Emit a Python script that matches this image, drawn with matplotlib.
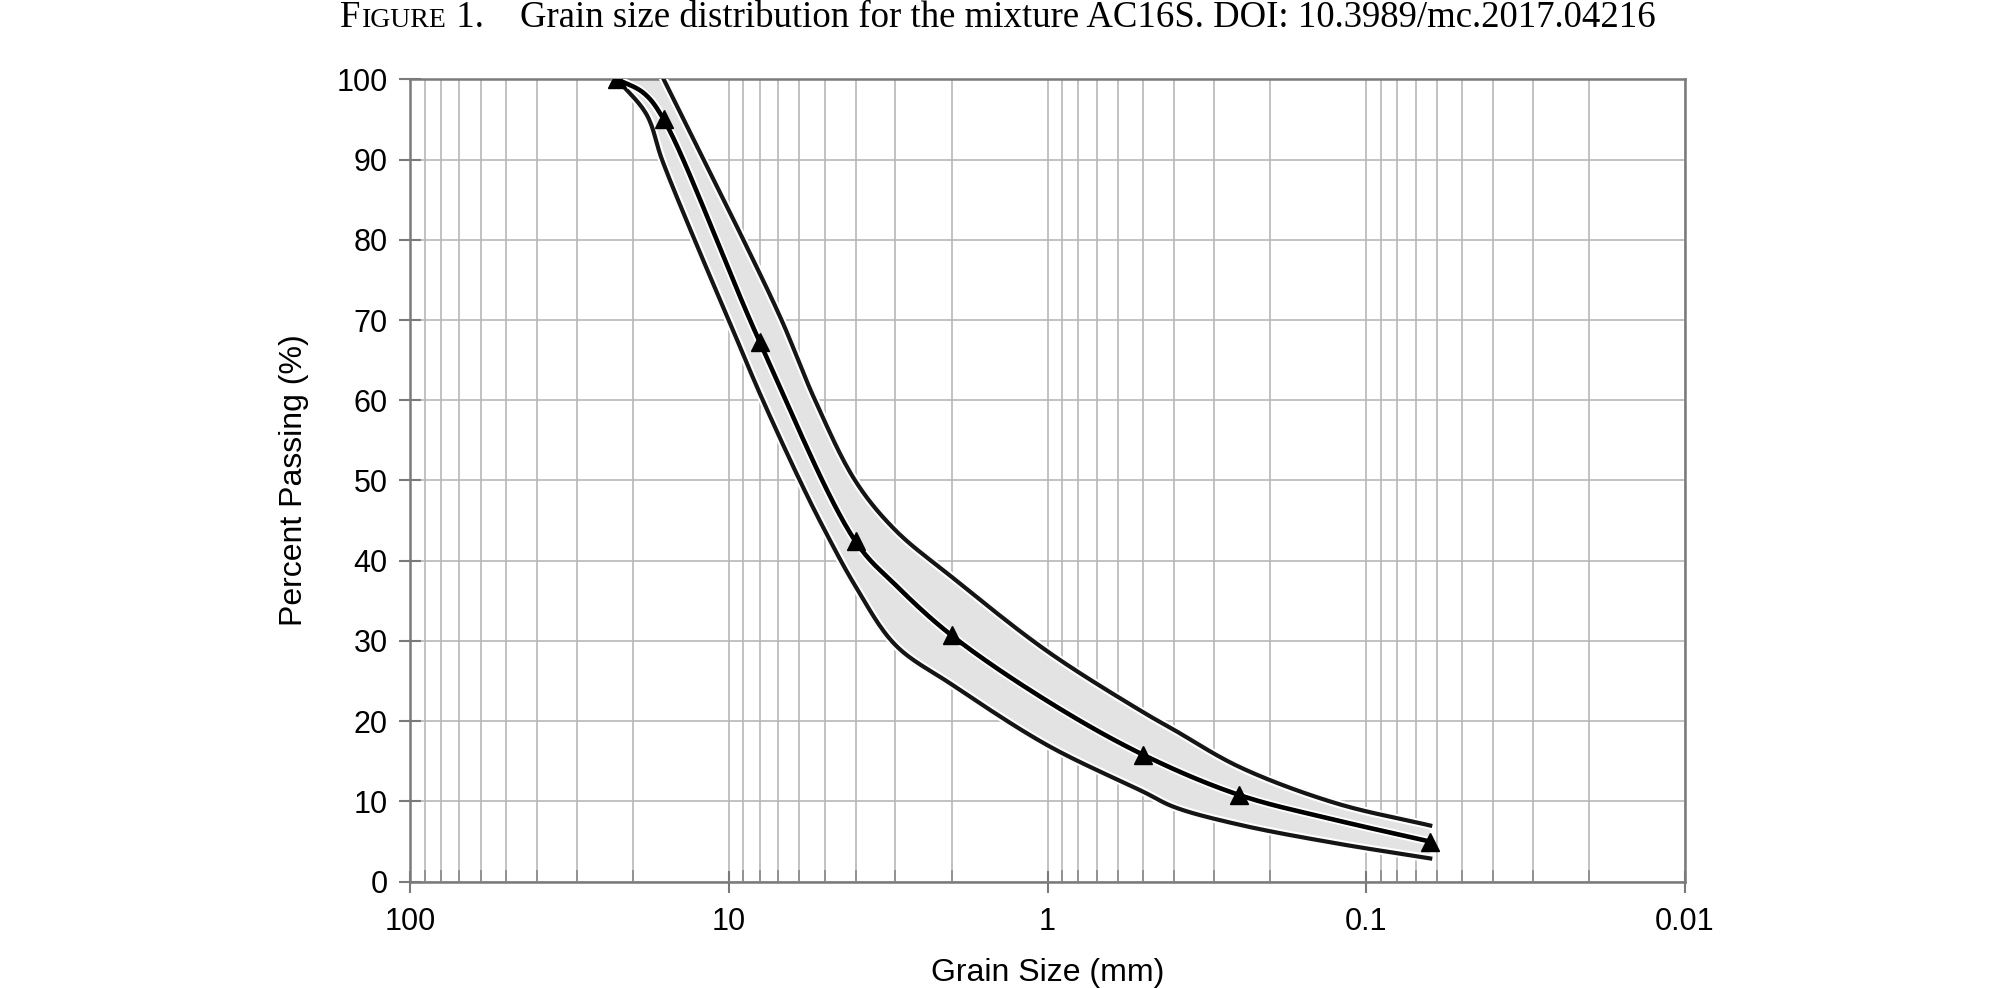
import matplotlib
matplotlib.use("Agg")
from matplotlib import pyplot as plt
from matplotlib import patheffects as pe
from matplotlib.ticker import FixedLocator, LogLocator, NullFormatter
import numpy as np

# sieve sizes (mm) and percent passing of the mixture (marked points)
mix_sieve = [22.4, 16, 8, 4, 2, 0.5, 0.25, 0.063]
mix_passing = [100, 95, 67.3, 42.4, 30.7, 15.8, 10.8, 5.0]

# points
mix_curve_size = [22.4, 18.5, 16, 8, 4, 3, 2, 1, 0.5, 0.25, 0.125, 0.063]
mix_curve_pass = [100, 98.3, 95, 67.3, 42.4, 37.0, 30.7, 22.5, 15.8, 10.8, 7.7, 5.0]

# grading envelope, upper limit
upper_size = [16, 11.9, 9.0, 6.83, 5.36, 4, 3, 2, 1, 0.5, 0.4, 0.25, 0.125, 0.063]
upper_pass = [100, 89.7, 80, 70, 60, 49.9, 43.8, 38.0, 28.7, 21.1, 18.9, 14.3, 9.8, 7.0]

# grading envelope, lower limit
lower_size = [22.4, 18.1, 16.2, 12.8, 10, 8, 6, 5, 4, 3, 2, 1, 0.5, 0.4, 0.25, 0.125, 0.063]
lower_pass = [100, 95.6, 90, 80, 70, 60.9, 50.1, 43.8, 36.8, 29.5, 24.6, 17.0, 11.2, 9.3, 7.1, 4.8, 2.9]

x_ticks = [100, 10, 1, 0.1, 0.01]
x_tick_labels = ["100", "10", "1", "0.1", "0.01"]
y_ticks = list(range(0, 101, 10))


def smooth_line(sizes, passing, steps=16):
    # centripetal catmull-rom through the read points (log x), like a "smoothed line" chart
    p = np.column_stack([np.log10(sizes), np.asarray(passing, float) / 40.0])
    p = np.vstack([2 * p[0] - p[1], p, 2 * p[-1] - p[-2]])
    out = []
    for i in range(1, len(p) - 2):
        p0, p1, p2, p3 = p[i - 1], p[i], p[i + 1], p[i + 2]
        t0 = 0.0
        t1 = t0 + np.linalg.norm(p1 - p0) ** 0.5
        t2 = t1 + np.linalg.norm(p2 - p1) ** 0.5
        t3 = t2 + np.linalg.norm(p3 - p2) ** 0.5
        for t in np.linspace(t1, t2, steps, endpoint=False):
            a1 = (t1 - t) / (t1 - t0) * p0 + (t - t0) / (t1 - t0) * p1
            a2 = (t2 - t) / (t2 - t1) * p1 + (t - t1) / (t2 - t1) * p2
            a3 = (t3 - t) / (t3 - t2) * p2 + (t - t2) / (t3 - t2) * p3
            b1 = (t2 - t) / (t2 - t0) * a1 + (t - t0) / (t2 - t0) * a2
            b2 = (t3 - t) / (t3 - t1) * a2 + (t - t1) / (t3 - t1) * a3
            out.append((t2 - t) / (t2 - t1) * b1 + (t - t1) / (t2 - t1) * b2)
    out.append(p[-2])
    out = np.array(out)
    return 10 ** out[:, 0], out[:, 1] * 40.0


W, H = 1996, 988
fig = plt.figure(figsize=(W / 100, H / 100), dpi=100)
ax = fig.add_axes([410 / W, 1 - 881.7 / H, (1685 - 410) / W, (881.7 - 79.3) / H])

sans = "Liberation Sans"
serif = "Liberation Serif"

ux, uy = smooth_line(upper_size, upper_pass)
lx, ly = smooth_line(lower_size, lower_pass)
mx, my = smooth_line(mix_curve_size, mix_curve_pass)

# envelope band
ax.fill(np.concatenate([ux, lx[::-1]]), np.concatenate([uy, ly[::-1]]),
        color="#e3e3e3", lw=0, zorder=2)

halo = [pe.Stroke(linewidth=6, foreground="white"), pe.Normal()]
ax.plot(ux, uy, color="#151515", lw=3.0, zorder=3, path_effects=halo)
ax.plot(lx, ly, color="#151515", lw=3.0, zorder=3, path_effects=halo)
ax.plot(mx, my, color="black", lw=3.3, zorder=4, path_effects=halo)
ax.plot(mix_sieve, mix_passing, ls="none", marker="^", ms=13, color="black", zorder=5)

ax.set_xscale("log")
ax.set_xlim(100, 0.01)
ax.set_ylim(0, 100)

ax.xaxis.set_major_locator(FixedLocator(x_ticks))
ax.set_xticklabels(x_tick_labels)
ax.xaxis.set_minor_locator(LogLocator(base=10, subs=np.arange(2, 10)))
ax.xaxis.set_minor_formatter(NullFormatter())
ax.set_yticks(y_ticks)

ax.grid(True, which="both", axis="x", color="#b8b8b8", lw=1.2, zorder=0)
ax.grid(True, which="major", axis="y", color="#b8b8b8", lw=1.2, zorder=0)
ax.set_axisbelow(True)

for s in ax.spines.values():
    s.set_color("#7a7a7a")
    s.set_linewidth(1.8)

ax.tick_params(axis="both", which="major", direction="inout", length=16, width=1.5,
               color="#7a7a7a", labelsize=22, pad=8)
ax.tick_params(axis="x", which="major", pad=10)
ax.tick_params(axis="x", which="minor", direction="in", length=8.5, width=1.2, color="#8a8a8a")
for lab in ax.get_xticklabels() + ax.get_yticklabels():
    lab.set_fontfamily(sans)

fig.text(1047.5 / W, 1 - 973 / H, "Grain Size (mm)", ha="center", va="center",
         fontsize=23, family=sans)
fig.text(294 / W, 1 - 480 / H, "Percent Passing (%)", ha="center", va="center",
         rotation=90, fontsize=23, family=sans)

# caption with small caps "Figure"
base_y = 1 - 27 / H
t1 = fig.text(340 / W, base_y, "F", fontsize=26.5, family=serif, va="baseline")
t2 = ax.annotate("IGURE", xy=(1, 0), xycoords=t1, xytext=(1, 1.3), textcoords="offset points",
                 fontsize=20, family=serif, ha="left", va="bottom", annotation_clip=False)
t3 = ax.annotate(" 1.", xy=(1, 0), xycoords=t2, xytext=(0, -1.3), textcoords="offset points",
                 fontsize=26.5, family=serif, ha="left", va="bottom", annotation_clip=False)
fig.text(520 / W, base_y, "Grain size distribution for the mixture AC16S. DOI: 10.3989/mc.2017.04216",
         fontsize=26.5, family=serif, va="baseline")

fig.savefig("out.png", dpi=100)
